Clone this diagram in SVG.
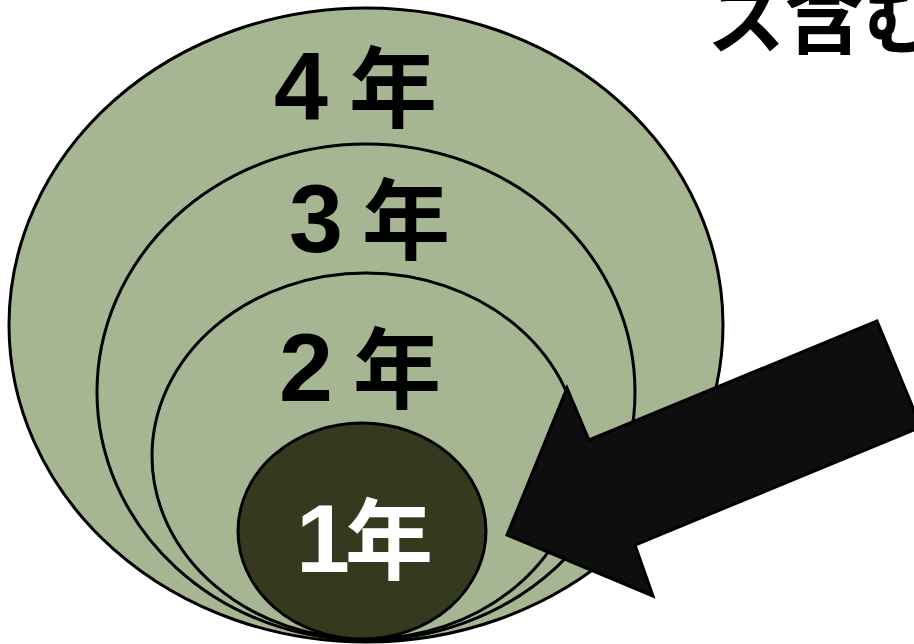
<svg xmlns="http://www.w3.org/2000/svg" width="914" height="644" viewBox="0 0 914 644">
<style>
.ring{fill:#A6B592;stroke:#000;stroke-width:3}
.core{fill:#353A1E;stroke:#000;stroke-width:3}
.num{font-family:"Liberation Sans","Noto Sans CJK JP",sans-serif;font-weight:bold;font-size:97px}
.kan{font-family:"Noto Sans CJK JP",sans-serif;font-weight:bold;font-size:88px}
.lbl{fill:#000}
.lblw{fill:#fff}
.title{font-family:"Noto Sans CJK JP",sans-serif;font-weight:bold;font-size:78px;fill:#000}
</style>
<rect width="914" height="644" fill="#fff"/>
<text class="title" x="707" y="48">ス含む</text>
<g id="year4">
<ellipse class="ring" cx="366" cy="325" rx="357" ry="317"/>
<text class="lbl" y="120"><tspan class="num" x="274">4</tspan><tspan class="kan" x="349">年</tspan></text>
</g>
<g id="year3">
<ellipse class="ring" cx="366" cy="392" rx="269" ry="248"/>
<text class="lbl" y="252"><tspan class="num" x="289">3</tspan><tspan class="kan" x="362">年</tspan></text>
</g>
<g id="year2">
<ellipse class="ring" cx="366" cy="456" rx="214" ry="183"/>
<text class="lbl" y="401"><tspan class="num" x="279">2</tspan><tspan class="kan" x="353">年</tspan></text>
</g>
<g id="year1">
<ellipse class="core" cx="362" cy="531" rx="124" ry="108"/>
<text class="lblw" y="572"><tspan class="num" x="296">1</tspan><tspan class="kan" x="345">年</tspan></text>
</g>
<g id="connectors">
<polygon id="arrow" points="507,535 567,388 589,440 877,321 921,427 635,545 653,596" fill="#0E0E0E" stroke="#000" stroke-width="3" stroke-linejoin="miter"/>
</g>
</svg>
